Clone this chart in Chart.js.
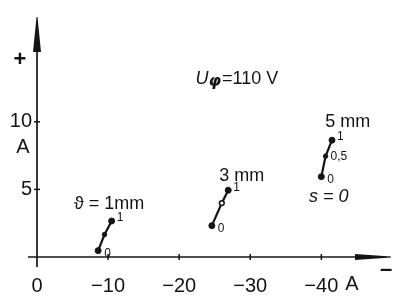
<!DOCTYPE html>
<html><head><meta charset="utf-8">
<script src="https://cdn.jsdelivr.net/npm/chart.js@4/dist/chart.umd.min.js"></script>
<style>html,body{margin:0;padding:0;background:#fff}#wrap{width:396px;height:296px}</style>
</head><body><div id="wrap"><canvas id="c" width="396" height="296"></canvas></div>
<script>
// Data
const xTicks = [0, -10, -20, -30, -40];
const yTicks = [5, 10];
const sValues = [0, 0.5, 1];
const x1mm = [-8.6, -9.5, -10.5];
const y1mm = [0.47, 1.66, 2.66];
const x3mm = [-24.6, -26.0, -26.9];
const y3mm = [2.32, 3.99, 4.94];
const x5mm = [-40.0, -40.6, -41.5];
const y5mm = [5.94, 7.46, 8.64];
const gapLabels = ['\u03D1 = 1mm', '3 mm', '5 mm'];
const sLabels = ['0', '0,5', '1'];

const INK = '#141414';
const F = '"Liberation Sans", Arial, sans-serif';

function pts(xs, ys) { return sValues.map((s, i) => ({ x: xs[i], y: ys[i], s: s })); }

const ds = (xs, ys, midOpen) => ({
  data: pts(xs, ys),
  showLine: true,
  borderColor: INK,
  borderWidth: 2.2,
  pointRadius: [3, midOpen ? 2.4 : 2.2, 3],
  pointBorderWidth: [1, midOpen ? 1.5 : 1, 1],
  pointBackgroundColor: [INK, midOpen ? '#fff' : INK, INK],
  pointBorderColor: INK
});

const deco = {
  id: 'deco',
  beforeDatasetsDraw(chart) {
    const { ctx, chartArea: a, scales: { x, y } } = chart;
    const x0 = x.getPixelForValue(0), y0 = y.getPixelForValue(0);
    ctx.save();
    ctx.strokeStyle = INK; ctx.fillStyle = INK; ctx.lineWidth = 1.7;
    // y axis
    ctx.beginPath(); ctx.moveTo(x0, y0 + 10); ctx.lineTo(x0, a.top + 34); ctx.stroke();
    ctx.beginPath(); ctx.moveTo(x0 - 4, a.top + 35); ctx.lineTo(x0 + 4, a.top + 35); ctx.lineTo(x0 + 0.5, a.top); ctx.lineTo(x0 - 0.5, a.top); ctx.closePath(); ctx.fill();
    // x axis
    ctx.beginPath(); ctx.moveTo(x0 - 9, y0); ctx.lineTo(a.right - 34, y0); ctx.stroke();
    ctx.beginPath(); ctx.moveTo(a.right - 36, y0 - 3); ctx.lineTo(a.right - 36, y0 + 3); ctx.lineTo(a.right, y0 + 0.5); ctx.lineTo(a.right, y0 - 0.5); ctx.closePath(); ctx.fill();
    // tick marks
    ctx.lineWidth = 1.5;
    xTicks.forEach(v => { if (v === 0) return; const px = x.getPixelForValue(v); ctx.beginPath(); ctx.moveTo(px, y0 - 3); ctx.lineTo(px, y0 + 3); ctx.stroke(); });
    yTicks.forEach(v => { const py = y.getPixelForValue(v); ctx.beginPath(); ctx.moveTo(x0 - 3, py); ctx.lineTo(x0 + 3, py); ctx.stroke(); });
    ctx.restore();
  },
  afterDatasetsDraw(chart) {
    const { ctx, chartArea: a, scales: { x, y } } = chart;
    const x0 = x.getPixelForValue(0), y0 = y.getPixelForValue(0);
    ctx.save();
    ctx.fillStyle = INK; ctx.textBaseline = 'middle';
    // axis units / signs
    ctx.textAlign = 'center';
    ctx.font = '20px ' + F;
    ctx.fillText('A', x0 - 14, y.getPixelForValue(10) + 26);
    ctx.fillText('A', x.getPixelForValue(-44.3), y0 + 27);
    ctx.font = 'bold 22px ' + F;
    ctx.fillText('+', x0 - 17, y.getPixelForValue(14.6));
    ctx.fillText('\u2013', a.right - 5, y0 + 13);
    // gap labels
    ctx.font = '18px ' + F;
    ctx.fillText(gapLabels[0], x.getPixelForValue(-10.14), y.getPixelForValue(3.94));
    ctx.fillText(gapLabels[1], x.getPixelForValue(-28.8), y.getPixelForValue(6.0));
    ctx.fillText(gapLabels[2], x.getPixelForValue(-43.7), y.getPixelForValue(10.0));
    ctx.font = 'italic 18px ' + F;
    ctx.fillText('s = 0', x.getPixelForValue(-41.06), y.getPixelForValue(4.44));
    // U phi = 110 V
    let ux = x.getPixelForValue(-22.3), uy = y.getPixelForValue(13.14);
    ctx.textAlign = 'left';
    ctx.font = 'italic 18px ' + F; ctx.fillText('U', ux, uy); ux += ctx.measureText('U').width;
    ctx.font = 'bold italic 16px "DejaVu Sans", sans-serif'; ctx.fillText('\u03C6', ux, uy + 3); ux += ctx.measureText('\u03C6').width + 1;
    ctx.font = '18px ' + F; ctx.fillText('=110 V', ux, uy);
    // s labels near points
    ctx.font = '12px ' + F;
    [[x1mm, y1mm], [x3mm, y3mm], [x5mm, y5mm]].forEach(([xs, ys], g) => {
      ctx.textAlign = 'left';
      ctx.fillText(sLabels[0], x.getPixelForValue(xs[0]) + 6, y.getPixelForValue(ys[0]) + 3);
      ctx.fillText(sLabels[2], x.getPixelForValue(xs[2]) + 5, y.getPixelForValue(ys[2]) - 3);
      if (g === 2) ctx.fillText(sLabels[1], x.getPixelForValue(xs[1]) + 5, y.getPixelForValue(ys[1]) + 1);
    });
    ctx.restore();
  }
};

new Chart(document.getElementById('c'), {
  type: 'scatter',
  data: { datasets: [ds(x1mm, y1mm, false), ds(x3mm, y3mm, true), ds(x5mm, y5mm, false)] },
  options: {
    responsive: false, animation: false, devicePixelRatio: 1,
    layout: { padding: { top: 8, right: 1, left: 0, bottom: 0 } },
    plugins: { legend: { display: false }, tooltip: { enabled: false } },
    scales: {
      x: {
        type: 'linear', reverse: true, min: -49.8, max: 0,
        afterBuildTicks: s => { s.ticks = xTicks.map(v => ({ value: v })); },
        afterFit: s => { s.height = 39; },
        grid: { display: false, drawTicks: false }, border: { display: false },
        ticks: { color: INK, font: { family: F, size: 20 }, padding: 17, maxRotation: 0, autoSkip: false,
          callback: v => v === 0 ? '0' : '\u2212' + Math.abs(v) }
      },
      y: {
        type: 'linear', min: 0, max: 17.75,
        afterBuildTicks: s => { s.ticks = yTicks.map(v => ({ value: v })); },
        afterFit: s => { s.width = 37; },
        grid: { display: false, drawTicks: false }, border: { display: false },
        ticks: { color: INK, font: { family: F, size: 20 }, padding: 5, autoSkip: false }
      }
    }
  },
  plugins: [deco]
});
</script></body></html>
